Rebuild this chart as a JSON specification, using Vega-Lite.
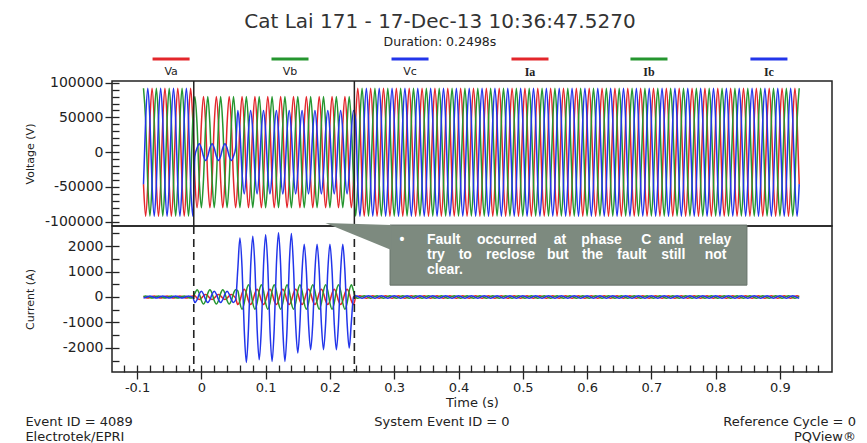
{
"$schema":"https://vega.github.io/schema/vega-lite/v6.json",
"padding":{"left":23,"top":12,"right":5,"bottom":2},
"background":"white",
"config":{"view":{"stroke":"#222","strokeWidth":1.5},"font":"DejaVu Sans","axis":{"grid":false,"domain":false,"tickColor":"#222","tickWidth":1.3,"labelColor":"#222","titleColor":"#222","labelFont":"DejaVu Sans","titleFont":"DejaVu Sans","titleFontWeight":"normal"}},
"title":{"text":"Cat Lai 171 - 17-Dec-13 10:36:47.5270","subtitle":"Duration: 0.2498s","anchor":"middle","font":"DejaVu Sans","fontSize":20,"fontWeight":"normal","color":"#333","subtitleFont":"DejaVu Sans","subtitleFontSize":12.5,"subtitleColor":"#222","subtitlePadding":4,"offset":8},
"spacing":0,
"bounds":"flush",
"datasets":{
"legend":[{"key":"va","name":"Va","c":-0.0471,"l1":-0.0759,"l2":-0.0183},{"key":"vb","name":"Vb","c":0.1379,"l1":0.1091,"l2":0.1667},{"key":"vc","name":"Vc","c":0.3246,"l1":0.2958,"l2":0.3534},{"key":"ia","name":"Ia","c":0.5112,"l1":0.4824,"l2":0.54},{"key":"ib","name":"Ib","c":0.6963,"l1":0.6675,"l2":0.7251},{"key":"ic","name":"Ic","c":0.8829,"l1":0.8541,"l2":0.9117}],
"wave":[
{"t":-0.09,"va":-46000,"vb":92000,"vc":-46000,"ia":20,"ib":20,"ic":-40},
{"t":-0.0867,"va":-92000,"vb":46000,"vc":46000,"ia":-20,"ib":40,"ic":-20},
{"t":-0.0833,"va":-46000,"vb":-46000,"vc":92000,"ia":-40,"ib":20,"ic":20},
{"t":-0.08,"va":46000,"vb":-92000,"vc":46000,"ia":-20,"ib":-20,"ic":40},
{"t":-0.0767,"va":92000,"vb":-46000,"vc":-46000,"ia":20,"ib":-40,"ic":20},
{"t":-0.0733,"va":46000,"vb":46000,"vc":-92000,"ia":40,"ib":-20,"ic":-20},
{"t":-0.07,"va":-46000,"vb":92000,"vc":-46000,"ia":20,"ib":20,"ic":-40},
{"t":-0.0667,"va":-92000,"vb":46000,"vc":46000,"ia":-20,"ib":40,"ic":-20},
{"t":-0.0633,"va":-46000,"vb":-46000,"vc":92000,"ia":-40,"ib":20,"ic":20},
{"t":-0.06,"va":46000,"vb":-92000,"vc":46000,"ia":-20,"ib":-20,"ic":40},
{"t":-0.0567,"va":92000,"vb":-46000,"vc":-46000,"ia":20,"ib":-40,"ic":20},
{"t":-0.0533,"va":46000,"vb":46000,"vc":-92000,"ia":40,"ib":-20,"ic":-20},
{"t":-0.05,"va":-46000,"vb":92000,"vc":-46000,"ia":20,"ib":20,"ic":-40},
{"t":-0.0467,"va":-92000,"vb":46000,"vc":46000,"ia":-20,"ib":40,"ic":-20},
{"t":-0.0433,"va":-46000,"vb":-46000,"vc":92000,"ia":-40,"ib":20,"ic":20},
{"t":-0.04,"va":46000,"vb":-92000,"vc":46000,"ia":-20,"ib":-20,"ic":40},
{"t":-0.0367,"va":92000,"vb":-46000,"vc":-46000,"ia":20,"ib":-40,"ic":20},
{"t":-0.0333,"va":46000,"vb":46000,"vc":-92000,"ia":40,"ib":-20,"ic":-20},
{"t":-0.03,"va":-46000,"vb":92000,"vc":-46000,"ia":20,"ib":20,"ic":-40},
{"t":-0.0267,"va":-92000,"vb":46000,"vc":46000,"ia":-20,"ib":40,"ic":-20},
{"t":-0.0233,"va":-46000,"vb":-46000,"vc":92000,"ia":-40,"ib":20,"ic":20},
{"t":-0.02,"va":46000,"vb":-92000,"vc":46000,"ia":-20,"ib":-20,"ic":40},
{"t":-0.0167,"va":92000,"vb":-46000,"vc":-46000,"ia":20,"ib":-40,"ic":20},
{"t":-0.0133,"va":46000,"vb":46000,"vc":-92000,"ia":40,"ib":-20,"ic":-20},
{"t":-0.01,"va":-40000,"vb":80000,"vc":-6000,"ia":50,"ib":140,"ic":-220},
{"t":-0.0067,"va":-80000,"vb":40000,"vc":6000,"ia":-50,"ib":280,"ic":-110},
{"t":-0.0033,"va":-40000,"vb":-40000,"vc":12000,"ia":-100,"ib":140,"ic":110},
{"t":0,"va":40000,"vb":-80000,"vc":6000,"ia":-50,"ib":-140,"ic":220},
{"t":0.0033,"va":80000,"vb":-40000,"vc":-6000,"ia":50,"ib":-280,"ic":110},
{"t":0.0067,"va":40000,"vb":40000,"vc":-12000,"ia":100,"ib":-140,"ic":-110},
{"t":0.01,"va":-40000,"vb":80000,"vc":-6000,"ia":50,"ib":140,"ic":-220},
{"t":0.0133,"va":-80000,"vb":40000,"vc":6000,"ia":-50,"ib":280,"ic":-110},
{"t":0.0167,"va":-40000,"vb":-40000,"vc":12000,"ia":-100,"ib":140,"ic":110},
{"t":0.02,"va":40000,"vb":-80000,"vc":6000,"ia":-50,"ib":-140,"ic":220},
{"t":0.0233,"va":80000,"vb":-40000,"vc":-6000,"ia":50,"ib":-280,"ic":110},
{"t":0.0267,"va":40000,"vb":40000,"vc":-12000,"ia":100,"ib":-140,"ic":-110},
{"t":0.03,"va":-40000,"vb":80000,"vc":-6000,"ia":50,"ib":140,"ic":-220},
{"t":0.0333,"va":-80000,"vb":40000,"vc":6000,"ia":-50,"ib":280,"ic":-110},
{"t":0.0367,"va":-40000,"vb":-40000,"vc":12000,"ia":-100,"ib":140,"ic":110},
{"t":0.04,"va":40000,"vb":-80000,"vc":6000,"ia":-50,"ib":-140,"ic":220},
{"t":0.0433,"va":80000,"vb":-40000,"vc":-6000,"ia":50,"ib":-280,"ic":110},
{"t":0.0467,"va":40000,"vb":40000,"vc":-12000,"ia":100,"ib":-140,"ic":-110},
{"t":0.05,"va":-40000,"vb":80000,"vc":-6000,"ia":50,"ib":140,"ic":-220},
{"t":0.0533,"va":-80000,"vb":40000,"vc":6000,"ia":-50,"ib":280,"ic":-110},
{"t":0.0567,"va":-40000,"vb":-40000,"vc":60000,"ia":-300,"ib":240,"ic":1100},
{"t":0.06,"va":40000,"vb":-80000,"vc":30000,"ia":-150,"ib":-240,"ic":2320},
{"t":0.0633,"va":80000,"vb":-40000,"vc":-30000,"ia":150,"ib":-480,"ic":1160},
{"t":0.0667,"va":40000,"vb":40000,"vc":-60000,"ia":300,"ib":-240,"ic":-1290},
{"t":0.07,"va":-40000,"vb":80000,"vc":-30000,"ia":150,"ib":240,"ic":-2575},
{"t":0.0733,"va":-80000,"vb":40000,"vc":30000,"ia":-150,"ib":480,"ic":-1240},
{"t":0.0767,"va":-40000,"vb":-40000,"vc":60000,"ia":-300,"ib":240,"ic":1195},
{"t":0.08,"va":40000,"vb":-80000,"vc":30000,"ia":-150,"ib":-240,"ic":2390},
{"t":0.0833,"va":80000,"vb":-40000,"vc":-30000,"ia":150,"ib":-480,"ic":1200},
{"t":0.0867,"va":40000,"vb":40000,"vc":-60000,"ia":300,"ib":-240,"ic":-1235},
{"t":0.09,"va":-40000,"vb":80000,"vc":-30000,"ia":150,"ib":240,"ic":-2470},
{"t":0.0933,"va":-80000,"vb":40000,"vc":30000,"ia":-150,"ib":480,"ic":-1250},
{"t":0.0967,"va":-40000,"vb":-40000,"vc":60000,"ia":-300,"ib":240,"ic":1225},
{"t":0.1,"va":40000,"vb":-80000,"vc":30000,"ia":-150,"ib":-240,"ic":2450},
{"t":0.1033,"va":80000,"vb":-40000,"vc":-30000,"ia":150,"ib":-480,"ic":1230},
{"t":0.1067,"va":40000,"vb":40000,"vc":-60000,"ia":300,"ib":-240,"ic":-1270},
{"t":0.11,"va":-40000,"vb":80000,"vc":-30000,"ia":150,"ib":240,"ic":-2535},
{"t":0.1133,"va":-80000,"vb":40000,"vc":30000,"ia":-150,"ib":480,"ic":-1270},
{"t":0.1167,"va":-40000,"vb":-40000,"vc":60000,"ia":-300,"ib":240,"ic":1260},
{"t":0.12,"va":40000,"vb":-80000,"vc":30000,"ia":-150,"ib":-240,"ic":2520},
{"t":0.1233,"va":80000,"vb":-40000,"vc":-30000,"ia":150,"ib":-480,"ic":1260},
{"t":0.1267,"va":40000,"vb":40000,"vc":-60000,"ia":300,"ib":-240,"ic":-1270},
{"t":0.13,"va":-40000,"vb":80000,"vc":-30000,"ia":150,"ib":240,"ic":-2535},
{"t":0.1333,"va":-80000,"vb":40000,"vc":30000,"ia":-150,"ib":480,"ic":-1260},
{"t":0.1367,"va":-40000,"vb":-40000,"vc":60000,"ia":-300,"ib":240,"ic":1250},
{"t":0.14,"va":40000,"vb":-80000,"vc":30000,"ia":-150,"ib":-240,"ic":2500},
{"t":0.1433,"va":80000,"vb":-40000,"vc":-30000,"ia":150,"ib":-480,"ic":1180},
{"t":0.1467,"va":40000,"vb":40000,"vc":-60000,"ia":300,"ib":-240,"ic":-1100},
{"t":0.15,"va":-40000,"vb":80000,"vc":-30000,"ia":150,"ib":240,"ic":-2205},
{"t":0.1533,"va":-80000,"vb":40000,"vc":30000,"ia":-150,"ib":480,"ic":-1070},
{"t":0.1567,"va":-40000,"vb":-40000,"vc":60000,"ia":-300,"ib":240,"ic":1035},
{"t":0.16,"va":40000,"vb":-80000,"vc":30000,"ia":-150,"ib":-240,"ic":2070},
{"t":0.1633,"va":80000,"vb":-40000,"vc":-30000,"ia":150,"ib":-480,"ic":1035},
{"t":0.1667,"va":40000,"vb":40000,"vc":-60000,"ia":300,"ib":-240,"ic":-1040},
{"t":0.17,"va":-40000,"vb":80000,"vc":-30000,"ia":150,"ib":240,"ic":-2075},
{"t":0.1733,"va":-80000,"vb":40000,"vc":30000,"ia":-150,"ib":480,"ic":-1040},
{"t":0.1767,"va":-40000,"vb":-40000,"vc":60000,"ia":-300,"ib":240,"ic":1035},
{"t":0.18,"va":40000,"vb":-80000,"vc":30000,"ia":-150,"ib":-240,"ic":2070},
{"t":0.1833,"va":80000,"vb":-40000,"vc":-30000,"ia":150,"ib":-480,"ic":1035},
{"t":0.1867,"va":40000,"vb":40000,"vc":-60000,"ia":300,"ib":-240,"ic":-1040},
{"t":0.19,"va":-40000,"vb":80000,"vc":-30000,"ia":150,"ib":240,"ic":-2075},
{"t":0.1933,"va":-80000,"vb":40000,"vc":30000,"ia":-150,"ib":480,"ic":-1040},
{"t":0.1967,"va":-40000,"vb":-40000,"vc":60000,"ia":-300,"ib":240,"ic":1035},
{"t":0.2,"va":40000,"vb":-80000,"vc":30000,"ia":-150,"ib":-240,"ic":2070},
{"t":0.2033,"va":80000,"vb":-40000,"vc":-30000,"ia":150,"ib":-480,"ic":1035},
{"t":0.2067,"va":40000,"vb":40000,"vc":-60000,"ia":300,"ib":-240,"ic":-1040},
{"t":0.21,"va":-40000,"vb":80000,"vc":-30000,"ia":150,"ib":240,"ic":-2075},
{"t":0.2133,"va":-80000,"vb":40000,"vc":30000,"ia":-150,"ib":480,"ic":-1040},
{"t":0.2167,"va":-40000,"vb":-40000,"vc":60000,"ia":-300,"ib":240,"ic":1035},
{"t":0.22,"va":40000,"vb":-80000,"vc":30000,"ia":-150,"ib":-240,"ic":2070},
{"t":0.2233,"va":80000,"vb":-40000,"vc":-30000,"ia":150,"ib":-480,"ic":1020},
{"t":0.2267,"va":40000,"vb":40000,"vc":-60000,"ia":300,"ib":-240,"ic":-1005},
{"t":0.23,"va":-40000,"vb":80000,"vc":-30000,"ia":150,"ib":240,"ic":-2010},
{"t":0.2333,"va":-80000,"vb":40000,"vc":30000,"ia":-150,"ib":480,"ic":-1000},
{"t":0.2367,"va":-40000,"vb":-40000,"vc":60000,"ia":-300,"ib":240,"ic":0},
{"t":0.24,"va":46000,"vb":-92000,"vc":46000,"ia":-25,"ib":-25,"ic":50},
{"t":0.2433,"va":92000,"vb":-46000,"vc":-46000,"ia":25,"ib":-50,"ic":25},
{"t":0.2467,"va":46000,"vb":46000,"vc":-92000,"ia":50,"ib":-25,"ic":-25},
{"t":0.25,"va":-46000,"vb":92000,"vc":-46000,"ia":25,"ib":25,"ic":-50},
{"t":0.2533,"va":-92000,"vb":46000,"vc":46000,"ia":-25,"ib":50,"ic":-25},
{"t":0.2567,"va":-46000,"vb":-46000,"vc":92000,"ia":-50,"ib":25,"ic":25},
{"t":0.26,"va":46000,"vb":-92000,"vc":46000,"ia":-25,"ib":-25,"ic":50},
{"t":0.2633,"va":92000,"vb":-46000,"vc":-46000,"ia":25,"ib":-50,"ic":25},
{"t":0.2667,"va":46000,"vb":46000,"vc":-92000,"ia":50,"ib":-25,"ic":-25},
{"t":0.27,"va":-46000,"vb":92000,"vc":-46000,"ia":25,"ib":25,"ic":-50},
{"t":0.2733,"va":-92000,"vb":46000,"vc":46000,"ia":-25,"ib":50,"ic":-25},
{"t":0.2767,"va":-46000,"vb":-46000,"vc":92000,"ia":-50,"ib":25,"ic":25},
{"t":0.28,"va":46000,"vb":-92000,"vc":46000,"ia":-25,"ib":-25,"ic":50},
{"t":0.2833,"va":92000,"vb":-46000,"vc":-46000,"ia":25,"ib":-50,"ic":25},
{"t":0.2867,"va":46000,"vb":46000,"vc":-92000,"ia":50,"ib":-25,"ic":-25},
{"t":0.29,"va":-46000,"vb":92000,"vc":-46000,"ia":25,"ib":25,"ic":-50},
{"t":0.2933,"va":-92000,"vb":46000,"vc":46000,"ia":-25,"ib":50,"ic":-25},
{"t":0.2967,"va":-46000,"vb":-46000,"vc":92000,"ia":-50,"ib":25,"ic":25},
{"t":0.3,"va":46000,"vb":-92000,"vc":46000,"ia":-25,"ib":-25,"ic":50},
{"t":0.3033,"va":92000,"vb":-46000,"vc":-46000,"ia":25,"ib":-50,"ic":25},
{"t":0.3067,"va":46000,"vb":46000,"vc":-92000,"ia":50,"ib":-25,"ic":-25},
{"t":0.31,"va":-46000,"vb":92000,"vc":-46000,"ia":25,"ib":25,"ic":-50},
{"t":0.3133,"va":-92000,"vb":46000,"vc":46000,"ia":-25,"ib":50,"ic":-25},
{"t":0.3167,"va":-46000,"vb":-46000,"vc":92000,"ia":-50,"ib":25,"ic":25},
{"t":0.32,"va":46000,"vb":-92000,"vc":46000,"ia":-25,"ib":-25,"ic":50},
{"t":0.3233,"va":92000,"vb":-46000,"vc":-46000,"ia":25,"ib":-50,"ic":25},
{"t":0.3267,"va":46000,"vb":46000,"vc":-92000,"ia":50,"ib":-25,"ic":-25},
{"t":0.33,"va":-46000,"vb":92000,"vc":-46000,"ia":25,"ib":25,"ic":-50},
{"t":0.3333,"va":-92000,"vb":46000,"vc":46000,"ia":-25,"ib":50,"ic":-25},
{"t":0.3367,"va":-46000,"vb":-46000,"vc":92000,"ia":-50,"ib":25,"ic":25},
{"t":0.34,"va":46000,"vb":-92000,"vc":46000,"ia":-25,"ib":-25,"ic":50},
{"t":0.3433,"va":92000,"vb":-46000,"vc":-46000,"ia":25,"ib":-50,"ic":25},
{"t":0.3467,"va":46000,"vb":46000,"vc":-92000,"ia":50,"ib":-25,"ic":-25},
{"t":0.35,"va":-46000,"vb":92000,"vc":-46000,"ia":25,"ib":25,"ic":-50},
{"t":0.3533,"va":-92000,"vb":46000,"vc":46000,"ia":-25,"ib":50,"ic":-25},
{"t":0.3567,"va":-46000,"vb":-46000,"vc":92000,"ia":-50,"ib":25,"ic":25},
{"t":0.36,"va":46000,"vb":-92000,"vc":46000,"ia":-25,"ib":-25,"ic":50},
{"t":0.3633,"va":92000,"vb":-46000,"vc":-46000,"ia":25,"ib":-50,"ic":25},
{"t":0.3667,"va":46000,"vb":46000,"vc":-92000,"ia":50,"ib":-25,"ic":-25},
{"t":0.37,"va":-46000,"vb":92000,"vc":-46000,"ia":25,"ib":25,"ic":-50},
{"t":0.3733,"va":-92000,"vb":46000,"vc":46000,"ia":-25,"ib":50,"ic":-25},
{"t":0.3767,"va":-46000,"vb":-46000,"vc":92000,"ia":-50,"ib":25,"ic":25},
{"t":0.38,"va":46000,"vb":-92000,"vc":46000,"ia":-25,"ib":-25,"ic":50},
{"t":0.3833,"va":92000,"vb":-46000,"vc":-46000,"ia":25,"ib":-50,"ic":25},
{"t":0.3867,"va":46000,"vb":46000,"vc":-92000,"ia":50,"ib":-25,"ic":-25},
{"t":0.39,"va":-46000,"vb":92000,"vc":-46000,"ia":25,"ib":25,"ic":-50},
{"t":0.3933,"va":-92000,"vb":46000,"vc":46000,"ia":-25,"ib":50,"ic":-25},
{"t":0.3967,"va":-46000,"vb":-46000,"vc":92000,"ia":-50,"ib":25,"ic":25},
{"t":0.4,"va":46000,"vb":-92000,"vc":46000,"ia":-25,"ib":-25,"ic":50},
{"t":0.4033,"va":92000,"vb":-46000,"vc":-46000,"ia":25,"ib":-50,"ic":25},
{"t":0.4067,"va":46000,"vb":46000,"vc":-92000,"ia":50,"ib":-25,"ic":-25},
{"t":0.41,"va":-46000,"vb":92000,"vc":-46000,"ia":25,"ib":25,"ic":-50},
{"t":0.4133,"va":-92000,"vb":46000,"vc":46000,"ia":-25,"ib":50,"ic":-25},
{"t":0.4167,"va":-46000,"vb":-46000,"vc":92000,"ia":-50,"ib":25,"ic":25},
{"t":0.42,"va":46000,"vb":-92000,"vc":46000,"ia":-25,"ib":-25,"ic":50},
{"t":0.4233,"va":92000,"vb":-46000,"vc":-46000,"ia":25,"ib":-50,"ic":25},
{"t":0.4267,"va":46000,"vb":46000,"vc":-92000,"ia":50,"ib":-25,"ic":-25},
{"t":0.43,"va":-46000,"vb":92000,"vc":-46000,"ia":25,"ib":25,"ic":-50},
{"t":0.4333,"va":-92000,"vb":46000,"vc":46000,"ia":-25,"ib":50,"ic":-25},
{"t":0.4367,"va":-46000,"vb":-46000,"vc":92000,"ia":-50,"ib":25,"ic":25},
{"t":0.44,"va":46000,"vb":-92000,"vc":46000,"ia":-25,"ib":-25,"ic":50},
{"t":0.4433,"va":92000,"vb":-46000,"vc":-46000,"ia":25,"ib":-50,"ic":25},
{"t":0.4467,"va":46000,"vb":46000,"vc":-92000,"ia":50,"ib":-25,"ic":-25},
{"t":0.45,"va":-46000,"vb":92000,"vc":-46000,"ia":25,"ib":25,"ic":-50},
{"t":0.4533,"va":-92000,"vb":46000,"vc":46000,"ia":-25,"ib":50,"ic":-25},
{"t":0.4567,"va":-46000,"vb":-46000,"vc":92000,"ia":-50,"ib":25,"ic":25},
{"t":0.46,"va":46000,"vb":-92000,"vc":46000,"ia":-25,"ib":-25,"ic":50},
{"t":0.4633,"va":92000,"vb":-46000,"vc":-46000,"ia":25,"ib":-50,"ic":25},
{"t":0.4667,"va":46000,"vb":46000,"vc":-92000,"ia":50,"ib":-25,"ic":-25},
{"t":0.47,"va":-46000,"vb":92000,"vc":-46000,"ia":25,"ib":25,"ic":-50},
{"t":0.4733,"va":-92000,"vb":46000,"vc":46000,"ia":-25,"ib":50,"ic":-25},
{"t":0.4767,"va":-46000,"vb":-46000,"vc":92000,"ia":-50,"ib":25,"ic":25},
{"t":0.48,"va":46000,"vb":-92000,"vc":46000,"ia":-25,"ib":-25,"ic":50},
{"t":0.4833,"va":92000,"vb":-46000,"vc":-46000,"ia":25,"ib":-50,"ic":25},
{"t":0.4867,"va":46000,"vb":46000,"vc":-92000,"ia":50,"ib":-25,"ic":-25},
{"t":0.49,"va":-46000,"vb":92000,"vc":-46000,"ia":25,"ib":25,"ic":-50},
{"t":0.4933,"va":-92000,"vb":46000,"vc":46000,"ia":-25,"ib":50,"ic":-25},
{"t":0.4967,"va":-46000,"vb":-46000,"vc":92000,"ia":-50,"ib":25,"ic":25},
{"t":0.5,"va":46000,"vb":-92000,"vc":46000,"ia":-25,"ib":-25,"ic":50},
{"t":0.5033,"va":92000,"vb":-46000,"vc":-46000,"ia":25,"ib":-50,"ic":25},
{"t":0.5067,"va":46000,"vb":46000,"vc":-92000,"ia":50,"ib":-25,"ic":-25},
{"t":0.51,"va":-46000,"vb":92000,"vc":-46000,"ia":25,"ib":25,"ic":-50},
{"t":0.5133,"va":-92000,"vb":46000,"vc":46000,"ia":-25,"ib":50,"ic":-25},
{"t":0.5167,"va":-46000,"vb":-46000,"vc":92000,"ia":-50,"ib":25,"ic":25},
{"t":0.52,"va":46000,"vb":-92000,"vc":46000,"ia":-25,"ib":-25,"ic":50},
{"t":0.5233,"va":92000,"vb":-46000,"vc":-46000,"ia":25,"ib":-50,"ic":25},
{"t":0.5267,"va":46000,"vb":46000,"vc":-92000,"ia":50,"ib":-25,"ic":-25},
{"t":0.53,"va":-46000,"vb":92000,"vc":-46000,"ia":25,"ib":25,"ic":-50},
{"t":0.5333,"va":-92000,"vb":46000,"vc":46000,"ia":-25,"ib":50,"ic":-25},
{"t":0.5367,"va":-46000,"vb":-46000,"vc":92000,"ia":-50,"ib":25,"ic":25},
{"t":0.54,"va":46000,"vb":-92000,"vc":46000,"ia":-25,"ib":-25,"ic":50},
{"t":0.5433,"va":92000,"vb":-46000,"vc":-46000,"ia":25,"ib":-50,"ic":25},
{"t":0.5467,"va":46000,"vb":46000,"vc":-92000,"ia":50,"ib":-25,"ic":-25},
{"t":0.55,"va":-46000,"vb":92000,"vc":-46000,"ia":25,"ib":25,"ic":-50},
{"t":0.5533,"va":-92000,"vb":46000,"vc":46000,"ia":-25,"ib":50,"ic":-25},
{"t":0.5567,"va":-46000,"vb":-46000,"vc":92000,"ia":-50,"ib":25,"ic":25},
{"t":0.56,"va":46000,"vb":-92000,"vc":46000,"ia":-25,"ib":-25,"ic":50},
{"t":0.5633,"va":92000,"vb":-46000,"vc":-46000,"ia":25,"ib":-50,"ic":25},
{"t":0.5667,"va":46000,"vb":46000,"vc":-92000,"ia":50,"ib":-25,"ic":-25},
{"t":0.57,"va":-46000,"vb":92000,"vc":-46000,"ia":25,"ib":25,"ic":-50},
{"t":0.5733,"va":-92000,"vb":46000,"vc":46000,"ia":-25,"ib":50,"ic":-25},
{"t":0.5767,"va":-46000,"vb":-46000,"vc":92000,"ia":-50,"ib":25,"ic":25},
{"t":0.58,"va":46000,"vb":-92000,"vc":46000,"ia":-25,"ib":-25,"ic":50},
{"t":0.5833,"va":92000,"vb":-46000,"vc":-46000,"ia":25,"ib":-50,"ic":25},
{"t":0.5867,"va":46000,"vb":46000,"vc":-92000,"ia":50,"ib":-25,"ic":-25},
{"t":0.59,"va":-46000,"vb":92000,"vc":-46000,"ia":25,"ib":25,"ic":-50},
{"t":0.5933,"va":-92000,"vb":46000,"vc":46000,"ia":-25,"ib":50,"ic":-25},
{"t":0.5967,"va":-46000,"vb":-46000,"vc":92000,"ia":-50,"ib":25,"ic":25},
{"t":0.6,"va":46000,"vb":-92000,"vc":46000,"ia":-25,"ib":-25,"ic":50},
{"t":0.6033,"va":92000,"vb":-46000,"vc":-46000,"ia":25,"ib":-50,"ic":25},
{"t":0.6067,"va":46000,"vb":46000,"vc":-92000,"ia":50,"ib":-25,"ic":-25},
{"t":0.61,"va":-46000,"vb":92000,"vc":-46000,"ia":25,"ib":25,"ic":-50},
{"t":0.6133,"va":-92000,"vb":46000,"vc":46000,"ia":-25,"ib":50,"ic":-25},
{"t":0.6167,"va":-46000,"vb":-46000,"vc":92000,"ia":-50,"ib":25,"ic":25},
{"t":0.62,"va":46000,"vb":-92000,"vc":46000,"ia":-25,"ib":-25,"ic":50},
{"t":0.6233,"va":92000,"vb":-46000,"vc":-46000,"ia":25,"ib":-50,"ic":25},
{"t":0.6267,"va":46000,"vb":46000,"vc":-92000,"ia":50,"ib":-25,"ic":-25},
{"t":0.63,"va":-46000,"vb":92000,"vc":-46000,"ia":25,"ib":25,"ic":-50},
{"t":0.6333,"va":-92000,"vb":46000,"vc":46000,"ia":-25,"ib":50,"ic":-25},
{"t":0.6367,"va":-46000,"vb":-46000,"vc":92000,"ia":-50,"ib":25,"ic":25},
{"t":0.64,"va":46000,"vb":-92000,"vc":46000,"ia":-25,"ib":-25,"ic":50},
{"t":0.6433,"va":92000,"vb":-46000,"vc":-46000,"ia":25,"ib":-50,"ic":25},
{"t":0.6467,"va":46000,"vb":46000,"vc":-92000,"ia":50,"ib":-25,"ic":-25},
{"t":0.65,"va":-46000,"vb":92000,"vc":-46000,"ia":25,"ib":25,"ic":-50},
{"t":0.6533,"va":-92000,"vb":46000,"vc":46000,"ia":-25,"ib":50,"ic":-25},
{"t":0.6567,"va":-46000,"vb":-46000,"vc":92000,"ia":-50,"ib":25,"ic":25},
{"t":0.66,"va":46000,"vb":-92000,"vc":46000,"ia":-25,"ib":-25,"ic":50},
{"t":0.6633,"va":92000,"vb":-46000,"vc":-46000,"ia":25,"ib":-50,"ic":25},
{"t":0.6667,"va":46000,"vb":46000,"vc":-92000,"ia":50,"ib":-25,"ic":-25},
{"t":0.67,"va":-46000,"vb":92000,"vc":-46000,"ia":25,"ib":25,"ic":-50},
{"t":0.6733,"va":-92000,"vb":46000,"vc":46000,"ia":-25,"ib":50,"ic":-25},
{"t":0.6767,"va":-46000,"vb":-46000,"vc":92000,"ia":-50,"ib":25,"ic":25},
{"t":0.68,"va":46000,"vb":-92000,"vc":46000,"ia":-25,"ib":-25,"ic":50},
{"t":0.6833,"va":92000,"vb":-46000,"vc":-46000,"ia":25,"ib":-50,"ic":25},
{"t":0.6867,"va":46000,"vb":46000,"vc":-92000,"ia":50,"ib":-25,"ic":-25},
{"t":0.69,"va":-46000,"vb":92000,"vc":-46000,"ia":25,"ib":25,"ic":-50},
{"t":0.6933,"va":-92000,"vb":46000,"vc":46000,"ia":-25,"ib":50,"ic":-25},
{"t":0.6967,"va":-46000,"vb":-46000,"vc":92000,"ia":-50,"ib":25,"ic":25},
{"t":0.7,"va":46000,"vb":-92000,"vc":46000,"ia":-25,"ib":-25,"ic":50},
{"t":0.7033,"va":92000,"vb":-46000,"vc":-46000,"ia":25,"ib":-50,"ic":25},
{"t":0.7067,"va":46000,"vb":46000,"vc":-92000,"ia":50,"ib":-25,"ic":-25},
{"t":0.71,"va":-46000,"vb":92000,"vc":-46000,"ia":25,"ib":25,"ic":-50},
{"t":0.7133,"va":-92000,"vb":46000,"vc":46000,"ia":-25,"ib":50,"ic":-25},
{"t":0.7167,"va":-46000,"vb":-46000,"vc":92000,"ia":-50,"ib":25,"ic":25},
{"t":0.72,"va":46000,"vb":-92000,"vc":46000,"ia":-25,"ib":-25,"ic":50},
{"t":0.7233,"va":92000,"vb":-46000,"vc":-46000,"ia":25,"ib":-50,"ic":25},
{"t":0.7267,"va":46000,"vb":46000,"vc":-92000,"ia":50,"ib":-25,"ic":-25},
{"t":0.73,"va":-46000,"vb":92000,"vc":-46000,"ia":25,"ib":25,"ic":-50},
{"t":0.7333,"va":-92000,"vb":46000,"vc":46000,"ia":-25,"ib":50,"ic":-25},
{"t":0.7367,"va":-46000,"vb":-46000,"vc":92000,"ia":-50,"ib":25,"ic":25},
{"t":0.74,"va":46000,"vb":-92000,"vc":46000,"ia":-25,"ib":-25,"ic":50},
{"t":0.7433,"va":92000,"vb":-46000,"vc":-46000,"ia":25,"ib":-50,"ic":25},
{"t":0.7467,"va":46000,"vb":46000,"vc":-92000,"ia":50,"ib":-25,"ic":-25},
{"t":0.75,"va":-46000,"vb":92000,"vc":-46000,"ia":25,"ib":25,"ic":-50},
{"t":0.7533,"va":-92000,"vb":46000,"vc":46000,"ia":-25,"ib":50,"ic":-25},
{"t":0.7567,"va":-46000,"vb":-46000,"vc":92000,"ia":-50,"ib":25,"ic":25},
{"t":0.76,"va":46000,"vb":-92000,"vc":46000,"ia":-25,"ib":-25,"ic":50},
{"t":0.7633,"va":92000,"vb":-46000,"vc":-46000,"ia":25,"ib":-50,"ic":25},
{"t":0.7667,"va":46000,"vb":46000,"vc":-92000,"ia":50,"ib":-25,"ic":-25},
{"t":0.77,"va":-46000,"vb":92000,"vc":-46000,"ia":25,"ib":25,"ic":-50},
{"t":0.7733,"va":-92000,"vb":46000,"vc":46000,"ia":-25,"ib":50,"ic":-25},
{"t":0.7767,"va":-46000,"vb":-46000,"vc":92000,"ia":-50,"ib":25,"ic":25},
{"t":0.78,"va":46000,"vb":-92000,"vc":46000,"ia":-25,"ib":-25,"ic":50},
{"t":0.7833,"va":92000,"vb":-46000,"vc":-46000,"ia":25,"ib":-50,"ic":25},
{"t":0.7867,"va":46000,"vb":46000,"vc":-92000,"ia":50,"ib":-25,"ic":-25},
{"t":0.79,"va":-46000,"vb":92000,"vc":-46000,"ia":25,"ib":25,"ic":-50},
{"t":0.7933,"va":-92000,"vb":46000,"vc":46000,"ia":-25,"ib":50,"ic":-25},
{"t":0.7967,"va":-46000,"vb":-46000,"vc":92000,"ia":-50,"ib":25,"ic":25},
{"t":0.8,"va":46000,"vb":-92000,"vc":46000,"ia":-25,"ib":-25,"ic":50},
{"t":0.8033,"va":92000,"vb":-46000,"vc":-46000,"ia":25,"ib":-50,"ic":25},
{"t":0.8067,"va":46000,"vb":46000,"vc":-92000,"ia":50,"ib":-25,"ic":-25},
{"t":0.81,"va":-46000,"vb":92000,"vc":-46000,"ia":25,"ib":25,"ic":-50},
{"t":0.8133,"va":-92000,"vb":46000,"vc":46000,"ia":-25,"ib":50,"ic":-25},
{"t":0.8167,"va":-46000,"vb":-46000,"vc":92000,"ia":-50,"ib":25,"ic":25},
{"t":0.82,"va":46000,"vb":-92000,"vc":46000,"ia":-25,"ib":-25,"ic":50},
{"t":0.8233,"va":92000,"vb":-46000,"vc":-46000,"ia":25,"ib":-50,"ic":25},
{"t":0.8267,"va":46000,"vb":46000,"vc":-92000,"ia":50,"ib":-25,"ic":-25},
{"t":0.83,"va":-46000,"vb":92000,"vc":-46000,"ia":25,"ib":25,"ic":-50},
{"t":0.8333,"va":-92000,"vb":46000,"vc":46000,"ia":-25,"ib":50,"ic":-25},
{"t":0.8367,"va":-46000,"vb":-46000,"vc":92000,"ia":-50,"ib":25,"ic":25},
{"t":0.84,"va":46000,"vb":-92000,"vc":46000,"ia":-25,"ib":-25,"ic":50},
{"t":0.8433,"va":92000,"vb":-46000,"vc":-46000,"ia":25,"ib":-50,"ic":25},
{"t":0.8467,"va":46000,"vb":46000,"vc":-92000,"ia":50,"ib":-25,"ic":-25},
{"t":0.85,"va":-46000,"vb":92000,"vc":-46000,"ia":25,"ib":25,"ic":-50},
{"t":0.8533,"va":-92000,"vb":46000,"vc":46000,"ia":-25,"ib":50,"ic":-25},
{"t":0.8567,"va":-46000,"vb":-46000,"vc":92000,"ia":-50,"ib":25,"ic":25},
{"t":0.86,"va":46000,"vb":-92000,"vc":46000,"ia":-25,"ib":-25,"ic":50},
{"t":0.8633,"va":92000,"vb":-46000,"vc":-46000,"ia":25,"ib":-50,"ic":25},
{"t":0.8667,"va":46000,"vb":46000,"vc":-92000,"ia":50,"ib":-25,"ic":-25},
{"t":0.87,"va":-46000,"vb":92000,"vc":-46000,"ia":25,"ib":25,"ic":-50},
{"t":0.8733,"va":-92000,"vb":46000,"vc":46000,"ia":-25,"ib":50,"ic":-25},
{"t":0.8767,"va":-46000,"vb":-46000,"vc":92000,"ia":-50,"ib":25,"ic":25},
{"t":0.88,"va":46000,"vb":-92000,"vc":46000,"ia":-25,"ib":-25,"ic":50},
{"t":0.8833,"va":92000,"vb":-46000,"vc":-46000,"ia":25,"ib":-50,"ic":25},
{"t":0.8867,"va":46000,"vb":46000,"vc":-92000,"ia":50,"ib":-25,"ic":-25},
{"t":0.89,"va":-46000,"vb":92000,"vc":-46000,"ia":25,"ib":25,"ic":-50},
{"t":0.8933,"va":-92000,"vb":46000,"vc":46000,"ia":-25,"ib":50,"ic":-25},
{"t":0.8967,"va":-46000,"vb":-46000,"vc":92000,"ia":-50,"ib":25,"ic":25},
{"t":0.9,"va":46000,"vb":-92000,"vc":46000,"ia":-25,"ib":-25,"ic":50},
{"t":0.9033,"va":92000,"vb":-46000,"vc":-46000,"ia":25,"ib":-50,"ic":25},
{"t":0.9067,"va":46000,"vb":46000,"vc":-92000,"ia":50,"ib":-25,"ic":-25},
{"t":0.91,"va":-46000,"vb":92000,"vc":-46000,"ia":25,"ib":25,"ic":-50},
{"t":0.9133,"va":-92000,"vb":46000,"vc":46000,"ia":-25,"ib":50,"ic":-25},
{"t":0.9167,"va":-46000,"vb":-46000,"vc":92000,"ia":-50,"ib":25,"ic":25},
{"t":0.92,"va":46000,"vb":-92000,"vc":46000,"ia":-25,"ib":-25,"ic":50},
{"t":0.9233,"va":92000,"vb":-46000,"vc":-46000,"ia":25,"ib":-50,"ic":25},
{"t":0.9267,"va":46000,"vb":46000,"vc":-92000,"ia":50,"ib":-25,"ic":-25},
{"t":0.93,"va":-46000,"vb":92000,"vc":-46000,"ia":25,"ib":25,"ic":-50}
]},
"vconcat":[
{"width":720,"height":145,
 "layer":[
  {"data":{"name":"wave"},"transform":[{"fold":["va","vb","vc"],"as":["ph","v"]}],
   "mark":{"type":"line","strokeWidth":1.5,"interpolate":"monotone"},
   "encoding":{
    "x":{"field":"t","type":"quantitative","scale":{"domain":[-0.139,0.981],"nice":false,"zero":false},"axis":null},
    "y":{"field":"v","type":"quantitative","scale":{"domain":[-106200,102400],"nice":false,"zero":false},
         "axis":{"orient":"left","values":[-100000,-50000,0,50000,100000],"format":"d","labelExpr":"replace(datum.label,'−','-')","tickSize":7,"labelPadding":2,"labelFontSize":14,"title":"Voltage (V)","titleFontSize":11,"titleX":-77}},
    "color":{"field":"ph","type":"nominal","scale":{"domain":["va","vb","vc","ia","ib","ic"],"range":["#e3262b","#25962f","#2235ea","#e3262b","#25962f","#2235ea"]},"legend":null}}},
  {"data":{"values":[{"t":-0.0118},{"t":0.238}]},"mark":{"type":"rule","color":"#222","strokeWidth":1.5},
   "encoding":{"x":{"field":"t","type":"quantitative","scale":{"domain":[-0.139,0.981],"nice":false,"zero":false},"axis":null}}},
  {"data":{"name":"legend"},"mark":{"type":"rule","strokeWidth":3},
   "encoding":{
    "x":{"field":"l1","type":"quantitative","scale":{"domain":[-0.139,0.981],"nice":false,"zero":false},"axis":null},
    "x2":{"field":"l2"},
    "y":{"datum":134100,"type":"quantitative","scale":{"domain":[-106200,102400],"nice":false,"zero":false},
         "axis":{"orient":"left","values":[-100000,-90000,-80000,-70000,-60000,-50000,-40000,-30000,-20000,-10000,0,10000,20000,30000,40000,50000,60000,70000,80000,90000,100000],"tickSize":-7,"labels":false,"title":null}},
    "color":{"field":"key","type":"nominal","scale":{"domain":["va","vb","vc","ia","ib","ic"],"range":["#e3262b","#25962f","#2235ea","#e3262b","#25962f","#2235ea"]},"legend":null}}},
  {"data":{"name":"legend"},"transform":[{"filter":"datum.key=='va'||datum.key=='vb'||datum.key=='vc'"}],
   "mark":{"type":"text","font":"DejaVu Sans","fontSize":11,"color":"#222","baseline":"middle"},
   "encoding":{
    "x":{"field":"c","type":"quantitative","scale":{"domain":[-0.139,0.981],"nice":false,"zero":false},"axis":null},
    "y":{"datum":115400,"type":"quantitative","scale":{"domain":[-106200,102400],"nice":false,"zero":false},"axis":null},
    "text":{"field":"name"}}},
  {"data":{"name":"legend"},"transform":[{"filter":"datum.key=='ia'||datum.key=='ib'||datum.key=='ic'"}],
   "mark":{"type":"text","font":"Liberation Serif","fontWeight":"bold","fontSize":12,"color":"#222","baseline":"middle"},
   "encoding":{
    "x":{"field":"c","type":"quantitative","scale":{"domain":[-0.139,0.981],"nice":false,"zero":false},"axis":null},
    "y":{"datum":115400,"type":"quantitative","scale":{"domain":[-106200,102400],"nice":false,"zero":false},"axis":null},
    "text":{"field":"name"}}}
 ],
 "resolve":{"axis":{"y":"independent"}}
},
{"width":720,"height":146,
 "layer":[
  {"data":{"name":"wave"},"transform":[{"fold":["ia","ib","ic"],"as":["ph","v"]}],
   "mark":{"type":"line","strokeWidth":1.5,"interpolate":"monotone"},
   "encoding":{
    "x":{"field":"t","type":"quantitative","scale":{"domain":[-0.139,0.981],"nice":false,"zero":false},
         "axis":{"orient":"bottom","values":[-0.1,0,0.1,0.2,0.3,0.4,0.5,0.6,0.7,0.8,0.9],"format":"~g","labelExpr":"replace(datum.label,'−','-')","tickSize":7,"labelPadding":2,"labelFontSize":13,"labelFlush":false,"title":"Time (s)","titleFontSize":13,"titlePadding":2}},
    "y":{"field":"v","type":"quantitative","scale":{"domain":[-2950,2790],"nice":false,"zero":false},
         "axis":{"orient":"left","values":[-2000,-1000,0,1000,2000],"format":"d","labelExpr":"replace(datum.label,'−','-')","tickSize":7,"labelPadding":2,"labelFontSize":14,"title":"Current (A)","titleFontSize":11,"titleX":-77}},
    "color":{"field":"ph","type":"nominal","scale":{"domain":["va","vb","vc","ia","ib","ic"],"range":["#e3262b","#25962f","#2235ea","#e3262b","#25962f","#2235ea"]},"legend":null}}},
  {"data":{"values":[{"t":-0.0118},{"t":0.238}]},"mark":{"type":"rule","color":"#222","strokeWidth":1.6,"strokeDash":[8,5]},
   "encoding":{"x":{"field":"t","type":"quantitative","scale":{"domain":[-0.139,0.981],"nice":false,"zero":false},"axis":null}}},
  {"data":{"values":[{"t1":0.2935,"t2":0.8487,"y1":2827,"y2":465}]},"mark":{"type":"rect","fill":"#7d8a7f","stroke":"#66726a","strokeWidth":1},
   "encoding":{
    "x":{"field":"t1","type":"quantitative","scale":{"domain":[-0.139,0.981],"nice":false,"zero":false},"axis":null},
    "x2":{"field":"t2"},
    "y":{"field":"y1","type":"quantitative","scale":{"domain":[-2950,2790],"nice":false,"zero":false},"axis":null},
    "y2":{"field":"y2"}}},
  {"data":{"values":[{"t":0.193,"top":2905,"bot":2905},{"t":0.2955,"top":2827,"bot":1842}]},"mark":{"type":"area","color":"#7d8a7f","opacity":1},
   "encoding":{
    "x":{"field":"t","type":"quantitative","scale":{"domain":[-0.139,0.981],"nice":false,"zero":false},"axis":null},
    "y":{"field":"top","type":"quantitative","scale":{"domain":[-2950,2790],"nice":false,"zero":false},"axis":null},
    "y2":{"field":"bot"}}},
  {"data":{"values":[{"w":"•","t":0.3082,"v":2236},{"w":"Fault","t":0.351,"v":2236},{"w":"occurred","t":0.4288,"v":2236},{"w":"at","t":0.5481,"v":2236},{"w":"phase","t":0.591,"v":2236},{"w":"C","t":0.6843,"v":2236},{"w":"and","t":0.7113,"v":2236},{"w":"relay","t":0.7736,"v":2236},{"w":"try","t":0.351,"v":1646},{"w":"to","t":0.4003,"v":1646},{"w":"reclose","t":0.4428,"v":1646},{"w":"but","t":0.5376,"v":1646},{"w":"the","t":0.5921,"v":1646},{"w":"fault","t":0.6465,"v":1646},{"w":"still","t":0.7154,"v":1646},{"w":"not","t":0.7829,"v":1646},{"w":"clear.","t":0.351,"v":1055}]},
   "mark":{"type":"text","font":"Liberation Sans","fontWeight":"bold","fontSize":14,"color":"white","align":"left","baseline":"middle"},
   "encoding":{
    "x":{"field":"t","type":"quantitative","scale":{"domain":[-0.139,0.981],"nice":false,"zero":false},
         "axis":{"orient":"bottom","values":[-0.12,-0.1,-0.08,-0.06,-0.04,-0.02,0,0.02,0.04,0.06,0.08,0.1,0.12,0.14,0.16,0.18,0.2,0.22,0.24,0.26,0.28,0.3,0.32,0.34,0.36,0.38,0.4,0.42,0.44,0.46,0.48,0.5,0.52,0.54,0.56,0.58,0.6,0.62,0.64,0.66,0.68,0.7,0.72,0.74,0.76,0.78,0.8,0.82,0.84,0.86,0.88,0.9,0.92,0.94,0.96],"tickSize":-7,"labels":false,"title":null}},
    "y":{"field":"v","type":"quantitative","scale":{"domain":[-2950,2790],"nice":false,"zero":false},
         "axis":{"orient":"left","values":[-2500,-2000,-1500,-1000,-500,0,500,1000,1500,2000,2500],"tickSize":-7,"labels":false,"title":null}},
    "text":{"field":"w"}}},
  {"data":{"values":[{"txt":"Event ID = 4089","t":-0.2737,"v":-4930},{"txt":"Electrotek/EPRI","t":-0.2737,"v":-5520}]},
   "mark":{"type":"text","font":"DejaVu Sans","fontSize":13,"color":"#222","align":"left","baseline":"middle"},
   "encoding":{
    "x":{"field":"t","type":"quantitative","scale":{"domain":[-0.139,0.981],"nice":false,"zero":false},"axis":null},
    "y":{"field":"v","type":"quantitative","scale":{"domain":[-2950,2790],"nice":false,"zero":false},"axis":null},
    "text":{"field":"txt"}}},
  {"data":{"values":[{"txt":"System Event ID = 0","t":0.3743,"v":-4930}]},
   "mark":{"type":"text","font":"DejaVu Sans","fontSize":13,"color":"#222","align":"center","baseline":"middle"},
   "encoding":{
    "x":{"field":"t","type":"quantitative","scale":{"domain":[-0.139,0.981],"nice":false,"zero":false},"axis":null},
    "y":{"field":"v","type":"quantitative","scale":{"domain":[-2950,2790],"nice":false,"zero":false},"axis":null},
    "text":{"field":"txt"}}},
  {"data":{"values":[{"txt":"Reference Cycle = 0","t":1.0182,"v":-4930},{"txt":"PQView®","t":1.0182,"v":-5520}]},
   "mark":{"type":"text","font":"DejaVu Sans","fontSize":13,"color":"#222","align":"right","baseline":"middle"},
   "encoding":{
    "x":{"field":"t","type":"quantitative","scale":{"domain":[-0.139,0.981],"nice":false,"zero":false},"axis":null},
    "y":{"field":"v","type":"quantitative","scale":{"domain":[-2950,2790],"nice":false,"zero":false},"axis":null},
    "text":{"field":"txt"}}}
 ],
 "resolve":{"axis":{"x":"independent","y":"independent"}}
}
]
}
